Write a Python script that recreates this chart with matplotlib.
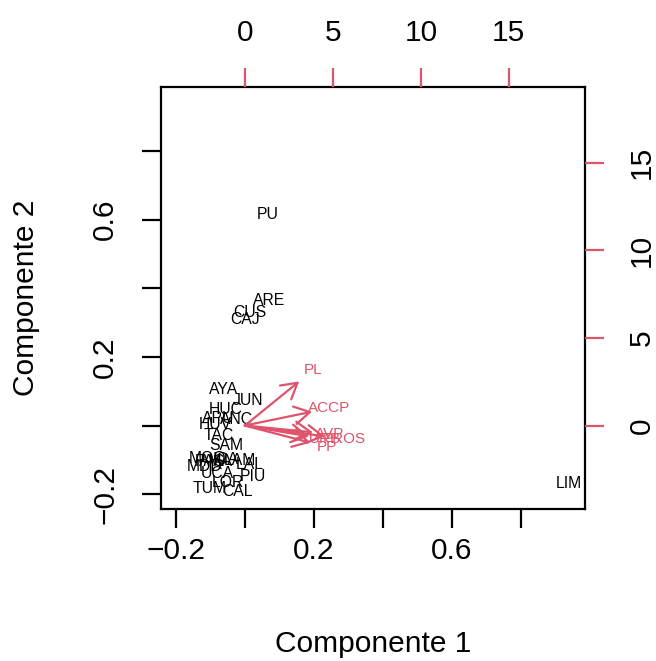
import matplotlib
matplotlib.use('Agg')
import matplotlib.pyplot as plt
from matplotlib.ticker import FixedLocator, FixedFormatter

plt.rcParams['font.family'] = ['Liberation Sans', 'DejaVu Sans']

# Observation scores (Componente 1, Componente 2)
obs_labels = ['PU', 'ARE', 'CUS', 'CAJ', 'AYA', 'JUN', 'HUC', 'APU', 'ANC', 'HUV',
              'TAC', 'SAM', 'MOQ', 'ICA', 'PAS', 'LAM', 'LAL', 'MDD', 'AMA', 'UCA',
              'PIU', 'LOR', 'TUM', 'CAL', 'LIM']
pc1 = [0.067, 0.070, 0.014, 0.000, -0.061, 0.009, -0.055, -0.078, -0.023, -0.087,
       -0.075, -0.055, -0.107, -0.055, -0.101, -0.014, 0.014, -0.116, -0.085, -0.081,
       0.023, -0.049, -0.101, -0.020, 0.939]
pc2 = [0.616, 0.364, 0.329, 0.309, 0.106, 0.074, 0.048, 0.022, 0.019, 0.004,
       -0.030, -0.057, -0.097, -0.100, -0.106, -0.103, -0.112, -0.120, -0.104, -0.141,
       -0.149, -0.167, -0.184, -0.193, -0.170]

# Variable loadings (top/right axis scale)
var_labels = ['PL', 'ACCP', 'AVP', 'URB', 'PROS', 'PP']
load1 = [3.86, 4.77, 4.83, 4.55, 5.68, 4.66]
load2 = [3.15, 0.99, -0.48, -0.77, -0.77, -1.22]

RED = '#DF536B'
W, H = 656, 661
fig = plt.figure(figsize=(W / 100, H / 100), dpi=100)
box = [161 / W, 1 - 509 / H, (585 - 161) / W, (509 - 87) / H]
ax = fig.add_axes(box)
lim = (-0.243, 0.986)
ax.set_xlim(lim)
ax.set_ylim(lim)
for s in ax.spines.values():
    s.set_linewidth(1.6)

ticks = [-0.2, 0.0, 0.2, 0.4, 0.6, 0.8]
tlabs = ['\u22120.2', '', '0.2', '', '0.6', '']
ax.xaxis.set_major_locator(FixedLocator(ticks))
ax.xaxis.set_major_formatter(FixedFormatter(tlabs))
ax.yaxis.set_major_locator(FixedLocator(ticks))
ax.yaxis.set_major_formatter(FixedFormatter(tlabs))
ax.tick_params(axis='both', length=14, width=1.6, labelsize=21.5)
ax.tick_params(axis='x', pad=6)
ax.tick_params(axis='y', pad=16)
for t in ax.get_yticklabels():
    t.set_rotation(90)
    t.set_va('center')
ax.set_xlabel('Componente 1', fontsize=21.5, labelpad=47)
ax.set_ylabel('Componente 2', fontsize=21.5, labelpad=37)

for lab, x, y in zip(obs_labels, pc1, pc2):
    ax.text(x, y, lab, ha='center', va='center', fontsize=11.3, color='black')

ratio = 19.6
ax2 = fig.add_axes(box, frameon=False)
ax2.set_xlim(lim[0] * ratio, lim[1] * ratio)
ax2.set_ylim(lim[0] * ratio, lim[1] * ratio)
ax2.xaxis.tick_top()
ax2.yaxis.tick_right()
rt = [0, 5, 10, 15]
ax2.set_xticks(rt)
ax2.set_yticks(rt)
ax2.set_xticklabels([str(v) for v in rt])
ax2.set_yticklabels([str(v) for v in rt], rotation=90, va='center')
ax2.tick_params(axis='both', length=14, width=1.6, color=RED, labelcolor='black',
                labelsize=21.5)
ax2.tick_params(axis='x', pad=15)
ax2.tick_params(axis='y', pad=17)

for lab, x, y in zip(var_labels, load1, load2):
    ax2.annotate('', xy=(0.8 * x, 0.8 * y), xytext=(0, 0),
                 arrowprops=dict(arrowstyle='->,head_length=0.55,head_width=0.32',
                                 color=RED, lw=1.6, shrinkA=0, shrinkB=0,
                                 mutation_scale=20))
    ax2.text(x, y, lab, ha='center', va='center', fontsize=11, color=RED)

fig.savefig('out.png', dpi=100)
